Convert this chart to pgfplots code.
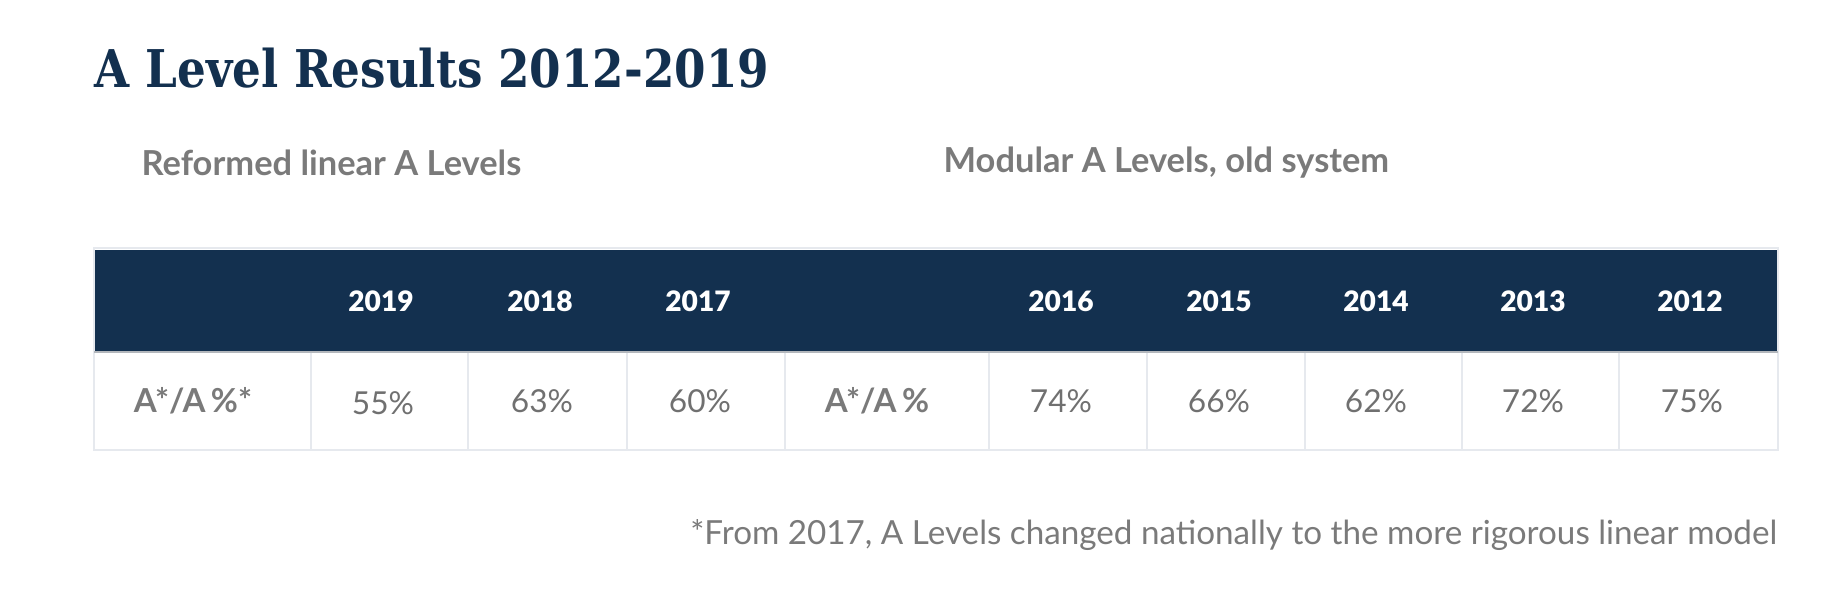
\documentclass[border=0pt]{standalone}
\usepackage{pgfplots}
\pgfplotsset{compat=1.18}
\usepackage{fontspec}
\setmainfont{Lato}
\newfontfamily\titlefont[FakeStretch=0.87]{DejaVu Serif}
\newfontfamily\blackfont{Lato Black}
\definecolor{navy}{HTML}{13304F}
\definecolor{greytext}{HTML}{7A7A7A}
\definecolor{valgrey}{HTML}{707070}
\definecolor{cellline}{HTML}{E6E9EE}
\definecolor{bandline}{HTML}{B3B7BC}

\pgfplotstableread{
x y lab
381 301 2019
540 301 2018
698 301 2017
1061 301 2016
1219 301 2015
1376 301 2014
1533 301 2013
1690 301 2012
}\years

\pgfplotstableread{
x y val
383 403 55
542 401 63
700 401 60
1061 401 74
1219 401 66
1376 401 62
1533 401 72
1692 401 75
}\results

\begin{document}
\begin{tikzpicture}
\begin{axis}[
  scale only axis, width=182.4mm, height=59mm,
  xmin=0, xmax=1824, ymin=0, ymax=590, y dir=reverse,
  hide axis, clip=false,
]
\path (axis cs:0,0) rectangle (axis cs:1824,590);
% title and subheadings
\node[anchor=base west, inner sep=0pt, text=navy, font=\titlefont\bfseries\fontsize{14.8}{16}\selectfont] at (axis cs:94,87) {A Level Results 2012-2019};
\node[anchor=west, inner sep=0pt, text=greytext, font=\bfseries\fontsize{9.8}{11}\selectfont] at (axis cs:141,163) {Reformed linear A Levels};
\node[anchor=west, inner sep=0pt, text=greytext, font=\bfseries\fontsize{9.8}{11}\selectfont] at (axis cs:943,163) {Modular A Levels, old system};
% table frame
\fill[navy] (axis cs:94,250) rectangle (axis cs:1778,352);
\draw[cellline, line width=0.35pt] (axis cs:94,248) rectangle (axis cs:1778,450);
\pgfplotsinvokeforeach{311,468,627,785,989,1147,1305,1462,1619}{
  \draw[cellline, line width=0.35pt] (axis cs:#1,352) -- (axis cs:#1,450);
}
\draw[bandline, line width=0.6pt] (axis cs:94,352) -- (axis cs:1778,352);
% row labels
\node[anchor=center, inner sep=0pt, text=greytext, font=\bfseries\fontsize{9.4}{11}\selectfont] at (axis cs:193,401) {A*/A\,\%*};
\node[anchor=center, inner sep=0pt, text=greytext, font=\bfseries\fontsize{9.4}{11}\selectfont] at (axis cs:877,401) {A*/A\,\%};
% header years
\addplot[only marks, mark=none, point meta=explicit symbolic,
  nodes near coords={\pgfplotspointmeta},
  nodes near coords align={center},
  every node near coord/.append style={text=white, font=\blackfont\fontsize{8}{10}\selectfont, inner sep=0pt}]
  table[x=x, y=y, meta=lab] {\years};
% values
\addplot[only marks, mark=none, point meta=explicit symbolic,
  nodes near coords={\pgfplotspointmeta\%},
  nodes near coords align={center},
  every node near coord/.append style={text=valgrey, font=\fontsize{9}{11}\selectfont, inner sep=0pt}]
  table[x=x, y=y, meta=val] {\results};
% footnote
\node[anchor=east, inner sep=0pt, text=greytext, font=\fontsize{9.45}{11}\selectfont] at (axis cs:1778,535) {*From 2017, A Levels changed nationally to the more rigorous linear model};
\end{axis}
\end{tikzpicture}
\end{document}
